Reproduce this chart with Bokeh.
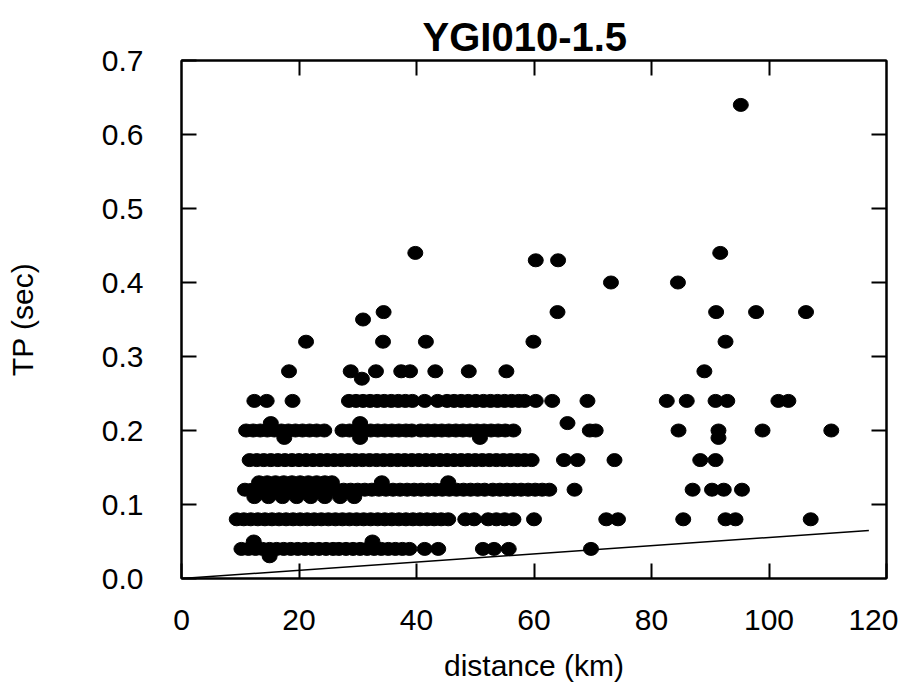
from bokeh.plotting import figure
from bokeh.models import LinearAxis, FixedTicker, Range1d, PrintfTickFormatter, ColumnDataSource
from bokeh.embed import file_html
from bokeh.resources import INLINE

# ---- data: distance (km) per TP level (sec) ----
km_at_003 = [15.0]
km_at_004 = [10.2, 11.4, 12.6, 13.8, 15.0, 16.2, 17.4, 18.6, 19.8, 21.0, 22.2, 23.4, 24.6, 25.8,
             26.8, 28.0, 29.2, 30.4, 31.6, 32.8, 34.0, 35.2, 36.4, 37.6, 38.8, 41.4, 43.7, 51.3,
             53.2, 55.7, 69.7]
km_at_005 = [12.3, 32.5]
km_at_008 = [9.4, 10.6, 11.8, 13.0, 14.2, 15.4, 16.6, 17.8, 19.0, 20.2, 21.4, 22.6, 23.8, 25.0,
             26.2, 27.4, 28.6, 29.8, 31.0, 32.2, 33.4, 34.6, 35.8, 37.0, 38.2, 39.4, 40.6, 41.8,
             43.0, 44.2, 45.4, 48.3, 49.8, 52.2, 53.6, 55.0, 56.5, 60.0, 72.3, 74.3, 85.4, 92.6,
             94.3, 107.1]
km_at_011 = [12.4, 14.8, 17.2, 19.6, 22.0, 24.4, 27.0, 29.4]
km_at_012 = [10.8, 12.0, 13.2, 14.4, 15.6, 16.8, 18.0, 19.2, 20.4, 21.6, 22.8, 24.0, 25.2, 26.4,
             27.6, 28.8, 30.0, 31.2, 32.4, 33.6, 34.8, 36.0, 37.2, 38.4, 39.6, 40.8, 42.0, 43.2,
             44.4, 45.6, 46.8, 48.0, 49.2, 50.4, 51.6, 53.0, 54.2, 55.4, 56.6, 57.8, 59.0, 60.2,
             61.4, 62.6, 66.9, 87.0, 90.3, 92.3, 95.4]
km_at_013 = [13.2, 14.6, 16.0, 17.4, 18.8, 20.2, 21.6, 23.0, 24.4, 25.6, 34.1, 45.4]
km_at_016 = [11.6, 12.8, 14.0, 15.2, 16.4, 17.6, 18.8, 20.0, 21.2, 22.4, 23.6, 24.8, 26.0, 27.2,
             28.4, 29.6, 30.8, 32.0, 33.2, 34.4, 35.6, 36.8, 38.0, 39.2, 40.4, 41.6, 42.8, 44.0,
             45.2, 46.4, 47.6, 48.8, 50.0, 51.2, 52.4, 53.6, 54.8, 56.0, 57.2, 58.4, 59.6, 65.1,
             67.4, 73.7, 88.3, 90.9]
km_at_019 = [17.5, 30.4, 50.8, 91.4]
km_at_020 = [11.0, 12.2, 13.4, 14.6, 15.8, 17.0, 18.2, 19.4, 20.6, 21.8, 23.0, 24.3, 27.4, 28.6,
             29.8, 31.0, 32.2, 33.4, 34.6, 35.8, 37.0, 38.2, 39.2, 40.7, 41.9, 43.1, 44.3, 45.5,
             46.7, 47.9, 49.1, 50.3, 51.5, 52.7, 53.9, 55.1, 56.5, 69.5, 70.5, 84.6, 91.4, 98.9,
             110.6]
km_at_021 = [15.2, 30.4, 65.7]
km_at_024 = [12.4, 14.5, 18.9, 28.5, 29.7, 30.9, 32.1, 33.3, 34.5, 35.7, 36.9, 38.1, 39.3, 41.4,
             43.6, 45.2, 46.4, 47.6, 48.8, 50.1, 51.4, 52.6, 53.8, 55.0, 56.2, 57.4, 58.4, 60.3,
             63.1, 69.1, 82.6, 86.0, 90.9, 92.9, 101.6, 103.3]
km_at_027 = [30.7]
km_at_028 = [18.3, 28.8, 33.1, 37.4, 38.9, 43.2, 48.9, 55.3, 89.0]
km_at_032 = [21.2, 34.3, 41.6, 59.9, 92.6]
km_at_035 = [30.9]
km_at_036 = [34.4, 64.0, 91.0, 97.8, 106.3]
km_at_040 = [73.1, 84.5]
km_at_043 = [60.3, 64.1]
km_at_044 = [39.8, 91.7]
km_at_064 = [95.2]

tp_levels = [0.03, 0.04, 0.05, 0.08, 0.11, 0.12, 0.13, 0.16, 0.19, 0.20, 0.21, 0.24, 0.27,
             0.28, 0.32, 0.35, 0.36, 0.40, 0.43, 0.44, 0.64]
km_rows = [km_at_003, km_at_004, km_at_005, km_at_008, km_at_011, km_at_012, km_at_013,
           km_at_016, km_at_019, km_at_020, km_at_021, km_at_024, km_at_027, km_at_028,
           km_at_032, km_at_035, km_at_036, km_at_040, km_at_043, km_at_044, km_at_064]

# reference line (lower bound)
line_km = [0, 117]
line_tp = [0, 0.065]

x_ticks = [0, 20, 40, 60, 80, 100, 120]
y_ticks = [0.0, 0.1, 0.2, 0.3, 0.4, 0.5, 0.6, 0.7]

distance_km, tp_sec = [], []
for lvl, row in zip(tp_levels, km_rows):
    distance_km.extend(row)
    tp_sec.extend([lvl] * len(row))
src = ColumnDataSource(dict(x=distance_km, y=tp_sec))

FONT = "Liberation Sans"

p = figure(width=898, height=684, x_range=Range1d(0, 120), y_range=Range1d(0, 0.7),
           output_backend="svg", toolbar_location=None,
           min_border_left=181, min_border_right=12, min_border_top=60, min_border_bottom=106)
p.grid.visible = False
p.background_fill_color = "white"
p.border_fill_color = "white"
p.outline_line_color = "black"
p.outline_line_width = 2

p.title.text = "YGI010-1.5"
p.title.text_font = FONT
p.title.text_font_size = "40px"
p.title.text_font_style = "bold"
p.title.text_color = "black"
p.title.text_line_height = 0.6
p.title.align = "left"
p.title.vertical_align = "top"
p.title.offset = 241
p.title.standoff = 0

for ax, ticks in ((p.xaxis[0], x_ticks), (p.yaxis[0], y_ticks)):
    ax.ticker = FixedTicker(ticks=ticks)
    ax.major_tick_in = 15
    ax.major_tick_out = 0
    ax.minor_tick_in = 0
    ax.minor_tick_out = 0
    ax.axis_line_width = 2
    ax.major_tick_line_width = 2
    ax.major_label_text_font = FONT
    ax.major_label_text_font_size = "30px"
    ax.major_label_text_color = "black"
    ax.axis_label_text_font = FONT
    ax.axis_label_text_font_size = "30px"
    ax.axis_label_text_font_style = "normal"
    ax.axis_label_text_color = "black"

p.xaxis[0].formatter = PrintfTickFormatter(format="%d")
p.yaxis[0].formatter = PrintfTickFormatter(format="%.1f")
p.xaxis[0].major_label_standoff = 31
p.yaxis[0].major_label_standoff = 38
p.xaxis[0].axis_label = "distance (km)"
p.xaxis[0].axis_label_standoff = 16
p.yaxis[0].axis_label = "TP (sec)"
p.yaxis[0].axis_label_standoff = 60

right = LinearAxis(ticker=FixedTicker(ticks=y_ticks[1:-1]), major_tick_in=15, major_tick_out=0,
                   minor_tick_in=0, minor_tick_out=0, axis_line_width=2, major_tick_line_width=2,
                   major_label_text_font_size="1px", major_label_text_color=None,
                   major_label_standoff=0)
top = LinearAxis(ticker=FixedTicker(ticks=x_ticks[1:-1]), major_tick_in=15, major_tick_out=0,
                 minor_tick_in=0, minor_tick_out=0, axis_line_width=2, major_tick_line_width=2,
                 major_label_text_font_size="1px", major_label_text_color=None,
                 major_label_standoff=0)
p.add_layout(right, "right")
p.add_layout(top, "above")

p.line(x=line_km, y=line_tp, line_color="black", line_width=1.5)
p.ellipse(x="x", y="y", width=15, height=13, width_units="screen", height_units="screen",
          source=src, fill_color="black", line_color="black")

open("out.html", "w").write(file_html(p, INLINE))
